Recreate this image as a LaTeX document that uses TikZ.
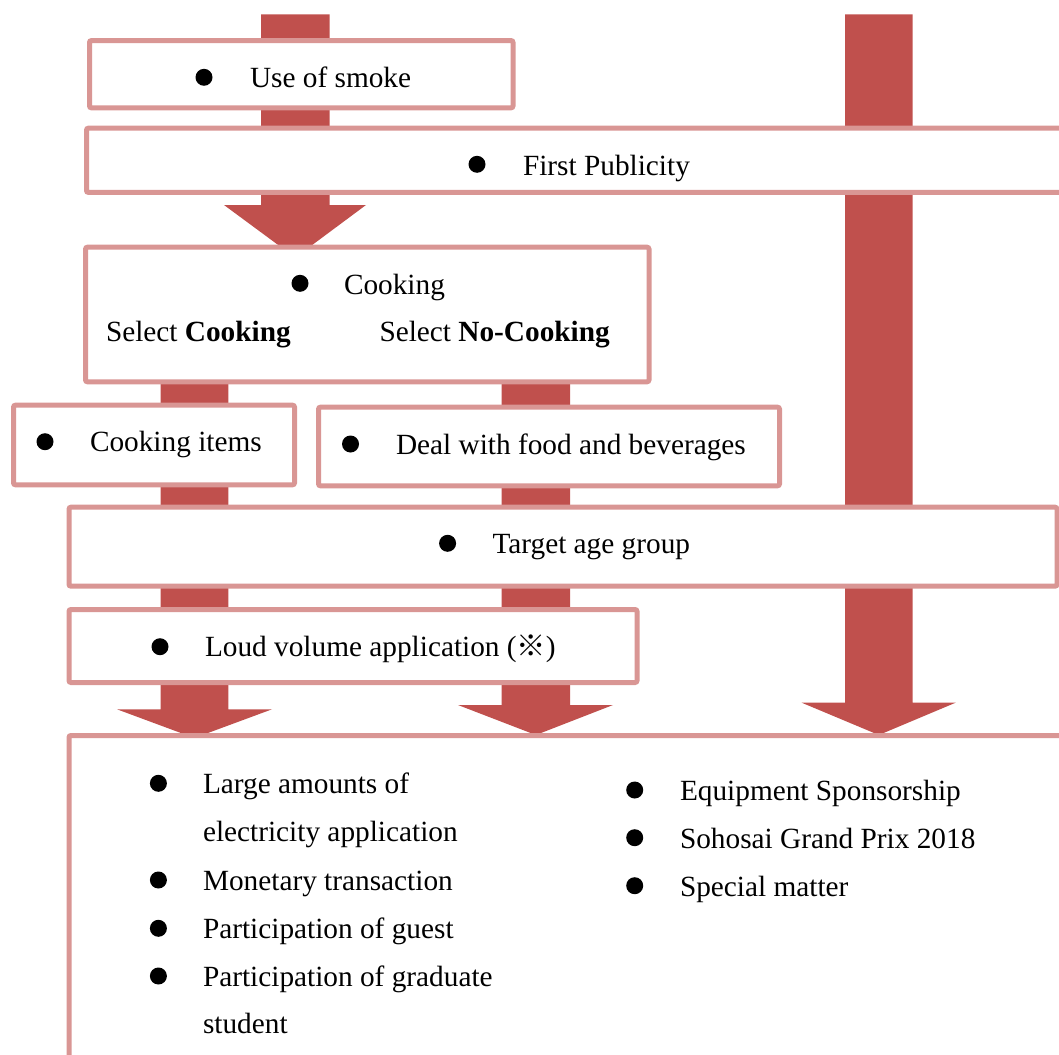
\documentclass[tikz,border=0pt]{standalone}
\usepackage{fontspec}
\setmainfont{Liberation Serif}
\newfontfamily\cjkjp{Noto Sans CJK JP}
\definecolor{flowred}{HTML}{C0504D}
\definecolor{boxline}{HTML}{D99694}
\begin{document}
\begin{tikzpicture}[x=1pt,y=-1pt,
  box/.style={draw=boxline,line width=5pt,fill=white,rounded corners=2pt,inner sep=0pt,outer sep=0pt},
  flow/.style={fill=flowred,draw=none},
  txt/.style={anchor=base west,inner sep=0pt,outer sep=0pt,font=\fontsize{29.3}{48.3}\selectfont},
  dot/.style={circle,fill=black,inner sep=0pt,minimum size=17pt}]
\useasboundingbox (0,0) rectangle (1059,1054);
\clip (0,0) rectangle (1059,1054);

% block arrows (behind the boxes)
\coordinate (tipA) at (295.25,257.6);
\coordinate (tipB) at (194.4,738);
\coordinate (tipC) at (535.85,735);
\coordinate (tipD) at (878.8,735);
\fill[flow] (261,14.3) -- (329.5,14.3) -- (329.5,205) -- (366,205) -- (tipA) -- (224,205) -- (261,205) -- cycle;
\fill[flow] (160.5,300) -- (228.3,300) -- (228.3,709.3) -- (272,709.3) -- (tipB) -- (117,709.3) -- (160.5,709.3) -- cycle;
\fill[flow] (501.7,300) -- (570,300) -- (570,705) -- (613,705) -- (tipC) -- (458,705) -- (501.7,705) -- cycle;
\fill[flow] (845,14.3) -- (912.6,14.3) -- (912.6,702.7) -- (955.6,702.7) -- (tipD) -- (801.7,702.7) -- (845,702.7) -- cycle;

% boxes
\node[box,minimum width=423.5pt,minimum height=67.3pt] (smoke) at (301.25,74.2) {};
\node[box,minimum width=985.5pt,minimum height=64.3pt] (publicity) at (579.25,160.3) {};
\node[box,minimum width=563.5pt,minimum height=134.6pt] (cooking) at (367.25,314.5) {};
\node[box,minimum width=281pt,minimum height=79.6pt] (items) at (154,445) {};
\node[box,minimum width=461pt,minimum height=78.6pt] (deal) at (549,446.5) {};
\node[box,minimum width=988pt,minimum height=79pt] (target) at (563,546.7) {};
\node[box,minimum width=568pt,minimum height=73pt] (loud) at (353,646) {};
\node[box,minimum width=1006pt,minimum height=336pt] (result) at (572,903.5) {};

% box texts
\node[dot] (smokeB) at (204,77.3) {};
\node[txt] (smokeT) at (250,87.3) {Use of smoke};
\node[dot] (publicityB) at (477,164.3) {};
\node[txt] (publicityT) at (523,175) {First Publicity};
\node[dot] (cookingB) at (300,283.3) {};
\node[txt] (cookingT) at (344,294) {Cooking};
\node[txt] (selA) at (106,341.7) {Select \textbf{Cooking}};
\node[txt] (selB) at (379.5,341.7) {Select \textbf{No-Cooking}};
\node[dot] (itemsB) at (45,441.7) {};
\node[txt] (itemsT) at (90,451.3) {Cooking items};
\node[dot] (dealB) at (350.5,444) {};
\node[txt] (dealT) at (396,454) {Deal with food and beverages};
\node[dot] (targetB) at (447.6,543.3) {};
\node[txt] (targetT) at (492.5,553.5) {Target age group};
\node[dot] (loudB) at (160,646.7) {};
\node[txt] (loudT) at (205,656.5) {Loud volume application ({\cjkjp ※})};

% lists in the bottom box
\node[dot] (l1B) at (158.4,783.3) {};
\node[txt] (l1a) at (203,793.3) {Large amounts of};
\node[txt] (l1b) at (203,841.7) {electricity application};
\node[dot] (l2B) at (158.4,880) {};
\node[txt] (l2) at (203,890) {Monetary transaction};
\node[dot] (l3B) at (158.4,928.3) {};
\node[txt] (l3) at (203,938.4) {Participation of guest};
\node[dot] (l4B) at (158.4,976) {};
\node[txt] (l4a) at (203,986.5) {Participation of graduate};
\node[txt] (l4b) at (203,1033.5) {student};
\node[dot] (r1B) at (634.7,790) {};
\node[txt] (r1) at (680,800) {Equipment Sponsorship};
\node[dot] (r2B) at (634.7,837.7) {};
\node[txt] (r2) at (680,848) {Sohosai Grand Prix 2018};
\node[dot] (r3B) at (634.7,885.7) {};
\node[txt] (r3) at (680,896) {Special matter};
\end{tikzpicture}
\end{document}
